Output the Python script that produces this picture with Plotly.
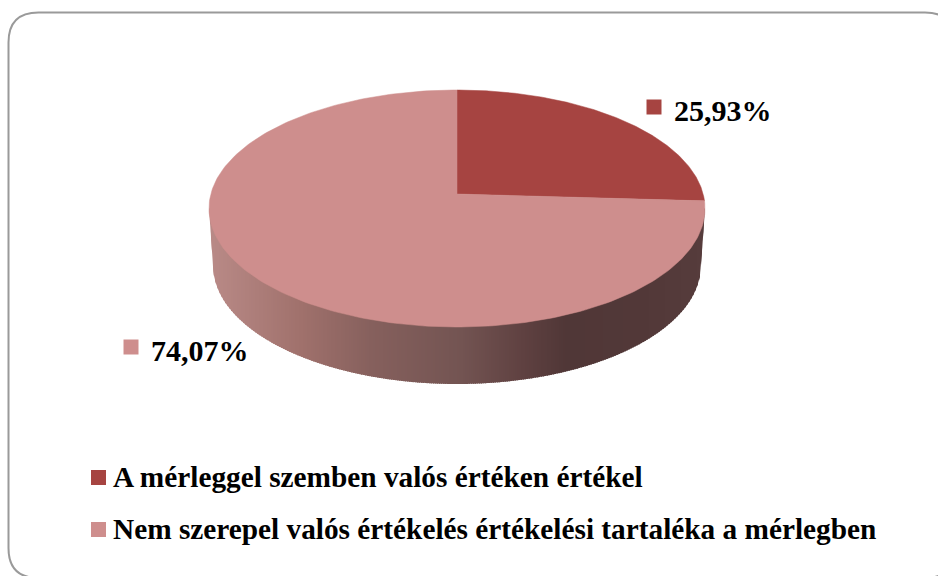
import numpy as np
import plotly.graph_objects as go

# ---- data ----
categories = ["A mérleggel szemben valós értéken értékel",
              "Nem szerepel valós értékelés értékelési tartaléka a mérlegben"]
values = [25.93, 74.07]
colors = ["#A64441", "#CE8E8D"]

# ---- layout constants (pixels of the 938x576 canvas) ----
W, H = 938, 576
CX = 457.0
CY_PIE = 194.0      # projected pie centre
TOP_Y, BOT_Y = 90.0, 327.0
RX = 248.0
DEPTH = 57.0
RX_BOTTOM = 244.0
FONT = "Liberation Serif, Times New Roman, serif"

# perspective projection of the unit disc
C = (TOP_Y + BOT_Y - 2 * CY_PIE) / (BOT_Y - TOP_Y)
B = TOP_Y * (1 + C) - CY_PIE
D = RX * np.sqrt(1 - C ** 2)


def project(theta, r=1.0):
    u, v = r * np.sin(theta), r * np.cos(theta)
    w = 1 + C * v
    return CX + D * u / w, (CY_PIE + B * v) / w


fig = go.Figure()

# ---- side wall: horizontal gradient, dark on the right ----
grad_x = [209, 300, 370, 460, 525, 565, 640, 705]
grad_c = np.array([[185, 138, 135], [160, 113, 108], [134, 96, 93], [115, 84, 82],
                   [94, 64, 64], [80, 55, 55], [82, 56, 56], [86, 60, 60]], float)
cy_mid = (TOP_Y + BOT_Y) / 2
ry = (BOT_Y - TOP_Y) / 2


def wall_bottom(x):
    d = np.abs(x - CX)
    inside = np.clip(1 - (d / RX_BOTTOM) ** 2, 0, None)
    y = cy_mid + DEPTH + ry * np.sqrt(inside)
    out = d > RX_BOTTOM
    y = np.where(out, cy_mid + (RX - d) / (RX - RX_BOTTOM) * DEPTH, y)
    return y


edges = np.arange(CX - RX, CX + RX, 2.0)
for x0 in edges:
    xs = np.linspace(x0, min(x0 + 3.0, CX + RX), 5)
    col = [int(round(np.interp(x0, grad_x, grad_c[:, k]))) for k in range(3)]
    fig.add_trace(go.Scatter(
        x=np.r_[xs, xs[::-1]],
        y=np.r_[np.full(5, cy_mid), wall_bottom(xs)[::-1]],
        mode="lines", line=dict(width=0), fill="toself",
        fillcolor=f"rgb({col[0]},{col[1]},{col[2]})",
        hoverinfo="skip", showlegend=False))

# ---- top face ----
fractions = np.array(values) / sum(values)
start = 0.0
for frac, col, name in zip(fractions, colors, categories):
    end = start + frac * 2 * np.pi
    th = np.linspace(start, end, 240)
    px, py = project(th)
    x = np.r_[CX, px, CX]
    y = np.r_[CY_PIE, py, CY_PIE]
    fig.add_trace(go.Scatter(x=x, y=y, mode="lines", line=dict(width=0.5, color=col),
                             fill="toself", fillcolor=col, name=name,
                             hoverinfo="name", showlegend=False))
    start = end

# ---- data labels ----
label_pos = [(654, 107), (131, 347)]
for val, col, (lx, ly) in zip(values, colors, label_pos):
    fig.add_trace(go.Scatter(x=[lx], y=[ly], mode="markers",
                             marker=dict(symbol="square", size=15, color=col),
                             hoverinfo="skip", showlegend=False))
    fig.add_annotation(x=lx + 18, y=ly + 3, text=f"<b>{val:.2f}".replace(".", ",") + "%</b>",
                       showarrow=False, xanchor="left", yanchor="middle",
                       font=dict(family=FONT, size=30, color="#000000"))

# ---- legend ----
legend_y = [476.5, 529]
marker_y = [477.5, 529.5]
for name, col, ly, my in zip(categories, colors, legend_y, marker_y):
    fig.add_trace(go.Scatter(x=[98.5], y=[my], mode="markers",
                             marker=dict(symbol="square", size=15, color=col),
                             hoverinfo="skip", showlegend=False))
    fig.add_annotation(x=111, y=ly, text=f"<b>{name}</b>", showarrow=False,
                       xanchor="left", yanchor="middle",
                       font=dict(family=FONT, size=29.3, color="#000000"))

# ---- rounded frame ----
L, T, R_, Bm, r = 8.5, 12.5, 955, 578, 30
path = (f"M {L+r} {T} L {R_-r} {T} Q {R_} {T} {R_} {T+r} L {R_} {Bm-r} "
        f"Q {R_} {Bm} {R_-r} {Bm} L {L+r} {Bm} Q {L} {Bm} {L} {Bm-r} "
        f"L {L} {T+r} Q {L} {T} {L+r} {T} Z")
fig.add_shape(type="path", path=path, xref="x", yref="y", layer="below",
              line=dict(color="#9A9A9A", width=2), fillcolor="#FFFFFF")

fig.update_layout(
    width=W, height=H, autosize=False,
    margin=dict(l=0, r=0, t=0, b=0),
    paper_bgcolor="#FFFFFF", plot_bgcolor="#FFFFFF",
    showlegend=False,
    xaxis=dict(range=[0, W], visible=False, fixedrange=True),
    yaxis=dict(range=[H, 0], visible=False, fixedrange=True),
)

fig.write_html("out.html", config=dict(displayModeBar=False),
               post_script="document.body.style.margin='0';document.body.style.overflow='hidden';")
